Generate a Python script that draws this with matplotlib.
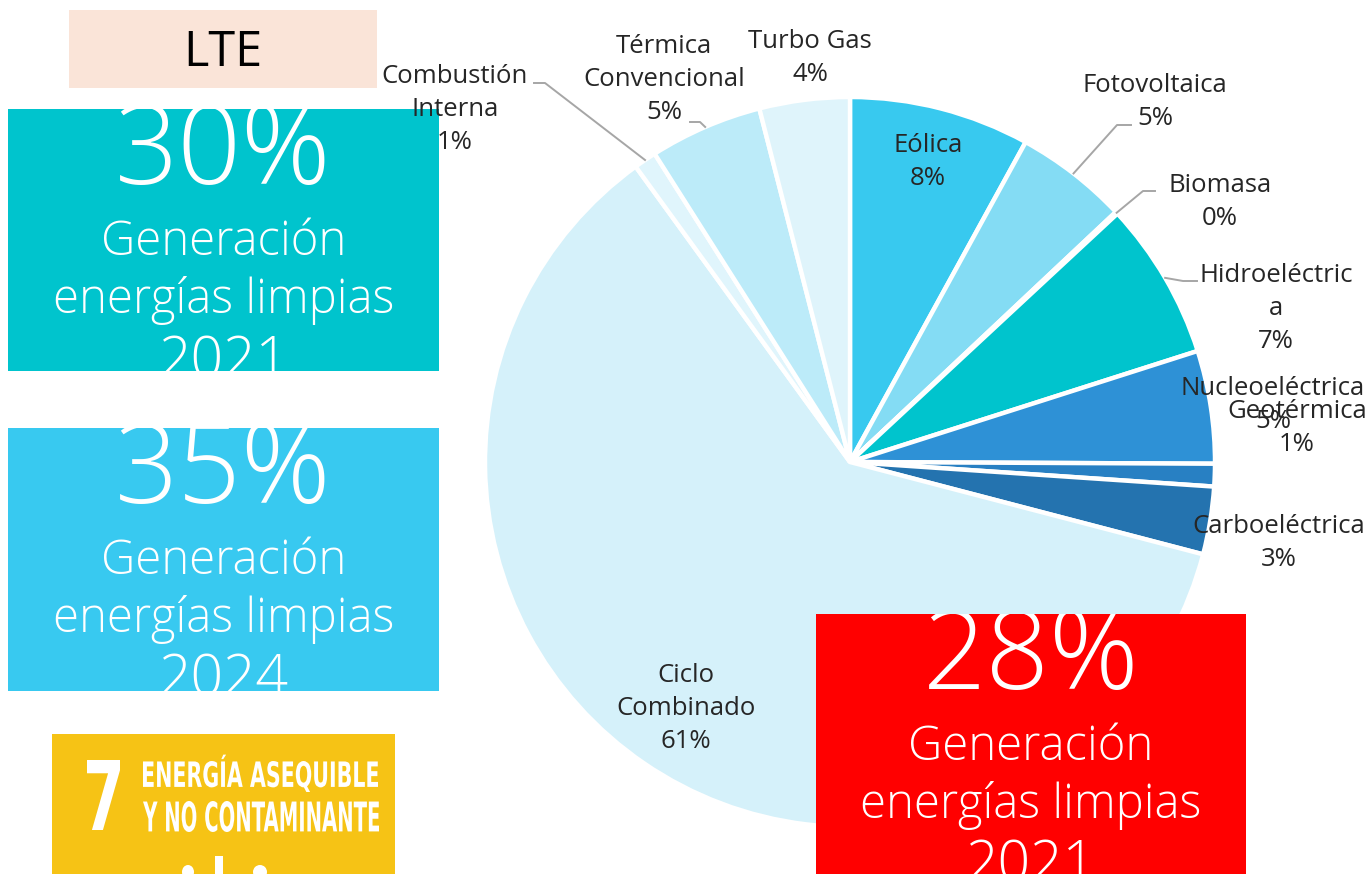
import numpy as np
import matplotlib
matplotlib.use("Agg")
import matplotlib.pyplot as plt
from matplotlib.textpath import TextPath
from matplotlib.font_manager import FontProperties
from matplotlib.patches import PathPatch, Ellipse, Rectangle
from matplotlib.transforms import Affine2D
from matplotlib.lines import Line2D

plt.rcParams['font.family'] = ['Open Sans', 'DejaVu Sans']

# ---------------- data ----------------
categories = ['Eólica', 'Fotovoltaica', 'Biomasa', 'Hidroeléctrica', 'Nucleoeléctrica',
              'Geotérmica', 'Carboeléctrica', 'Ciclo Combinado', 'Combustión Interna',
              'Térmica Convencional', 'Turbo Gas']
shares = [8, 5, 0.1, 7, 5, 1, 3, 61, 1, 5, 4]
pct_labels = ['8%', '5%', '0%', '7%', '5%', '1%', '3%', '61%', '1%', '5%', '4%']
label_lines = [['Eólica'], ['Fotovoltaica'], ['Biomasa'], ['Hidroeléctric', 'a'],
               ['Nucleoeléctrica'], ['Geotérmica'], ['Carboeléctrica'], ['Ciclo', 'Combinado'],
               ['Combustión', 'Interna'], ['Térmica', 'Convencional'], ['Turbo Gas']]
colors = ['#38C9EF', '#84DCF4', '#6FD3EE', '#00C4CD', '#2E91D6', '#2880C3', '#2473AF',
          '#D5F1FA', '#E0F5FC', '#BCEBF9', '#DFF4FB']

box_values = ['30%', '35%', '28%']
box_lines = ['Generación', 'energías limpias']
box_years = ['2021', '2024', '2021']
title_text = 'LTE'
sdg_number = '7'
sdg_lines = ['ENERGÍA ASEQUIBLE', 'Y NO CONTAMINANTE']

# ---------------- layout ----------------
W, H = 1370, 874
fig = plt.figure(figsize=(W / 100, H / 100), dpi=100)
fig.patch.set_facecolor('white')

CX, CY, R = 850, 462, 365
pie_ax = fig.add_axes([(CX - R) / W, (H - CY - R) / H, 2 * R / W, 2 * R / H], zorder=1)
wedges, _ = pie_ax.pie(shares, colors=colors, startangle=90, counterclock=False,
                       wedgeprops=dict(edgecolor='white', linewidth=3.2))
for w in wedges:
    w.set_clip_on(False)
pie_ax.set_xlim(-1, 1)
pie_ax.set_ylim(-1, 1)
pie_ax.set_aspect('equal')
pie_ax.axis('off')


def fpt(x, y):
    return x / W, 1 - y / H


# label positions (center x, first baseline y) in pixels
label_pos = [(928, 152), (1155, 92), (1220, 192), (1276, 282), (1273, 395),
             (1297, 418), (1279, 533), (686, 682), (455, 83), (664, 53), (810, 48)]
LINE_STEP = 33
LABEL_FS = 18.5
for lines, pct, (lx, ly) in zip(label_lines, pct_labels, label_pos):
    for i, s in enumerate(lines + [pct]):
        fig.text(*fpt(lx, ly + i * LINE_STEP), s, ha='center', va='baseline',
                 fontsize=LABEL_FS, color='#262626', zorder=20)

# leader lines: from wedge mid-angle on the rim -> elbow -> label end
leaders = {1: ((1117, 125), (1131, 125)), 2: ((1143, 191), (1155, 191)),
           3: ((1183, 281), (1197, 281)), 8: ((545, 83), (534, 83)),
           9: ((700, 122), (690, 122))}
total = sum(shares)
cum = np.cumsum([0] + shares)
for idx, (elbow, end) in leaders.items():
    frac = (cum[idx] + shares[idx] / 2) / total
    ang = np.deg2rad(90 - 360 * frac)
    sx, sy = CX + R * np.cos(ang), CY - R * np.sin(ang)
    xs = [sx, elbow[0], end[0]]
    ys = [sy, elbow[1], end[1]]
    fig.add_artist(Line2D([x / W for x in xs], [1 - y / H for y in ys],
                          color='#A6A6A6', lw=1.4, zorder=15))


def box(x0, y0, x1, y1, color, z):
    ax = fig.add_axes([x0 / W, 1 - y1 / H, (x1 - x0) / W, (y1 - y0) / H], zorder=z)
    ax.set_facecolor(color)
    ax.set_xticks([])
    ax.set_yticks([])
    for s in ax.spines.values():
        s.set_visible(False)
    ax.set_xlim(x0, x1)
    ax.set_ylim(y1, y0)
    return ax


# LTE title
ax_t = box(69, 10, 377, 88, '#FAE4D8', 5)
ax_t.text(223, 66, title_text, ha='center', va='baseline', fontsize=35,
          color='black', clip_on=True)

# value boxes
box_specs = [((8, 109, 439, 371), '#00C4CD'), ((8, 428, 439, 691), '#38C9F0'),
             ((816, 614, 1246, 874), '#FF0000')]
for (rect, col), val, yr in zip(box_specs, box_values, box_years):
    x0, y0, x1, y1 = rect
    ax_b = box(x0, y0, x1, y1, col, 6)
    cx = (x0 + x1) / 2
    ax_b.text(cx, y0 + 75, val, ha='center', va='baseline', fontsize=80,
              fontweight='light', color='white', clip_on=True)
    for i, s in enumerate(box_lines):
        ax_b.text(cx, y0 + 146 + i * 57.5, s, ha='center', va='baseline',
                  fontsize=34, fontweight='light', color='white', clip_on=True)
    ax_b.text(cx, y0 + 268, yr, ha='center', va='baseline',
              fontsize=41, fontweight='light', color='white', clip_on=True)

# SDG 7 badge
ax_s = box(52, 734, 395, 874, '#F6C315', 6)


def fit_text(ax, s, x0, y0, x1, y1, ref=None):
    prop = FontProperties(family='DejaVu Sans', weight='bold')
    tp = TextPath((0, 0), s, size=100, prop=prop)
    bb = TextPath((0, 0), ref if ref else s, size=100, prop=prop).get_extents()
    sx = (x1 - x0) / bb.width
    sy = (y1 - y0) / bb.height
    tr = Affine2D().translate(-bb.x0, -bb.y0).scale(sx, -sy).translate(x0, y1)
    ax.add_patch(PathPatch(tr.transform_path(tp), fc='white', ec='none', zorder=3))


fit_text(ax_s, sdg_number, 87, 760, 120, 830)
fit_text(ax_s, sdg_lines[0], 143, 761, 378, 792, ref='ENERGIA ASEQUIBLE')
fit_text(ax_s, sdg_lines[1], 143, 801, 379, 832)
# partial icon at bottom of badge
ax_s.add_patch(Ellipse((188, 872), 12, 14, fc='white', ec='none', zorder=3))
ax_s.add_patch(Rectangle((215, 856), 8, 20, fc='white', ec='none', zorder=3))
ax_s.add_patch(Ellipse((260, 872), 14, 14, fc='white', ec='none', zorder=3))

fig.savefig('out.png', dpi=100, facecolor='white')
